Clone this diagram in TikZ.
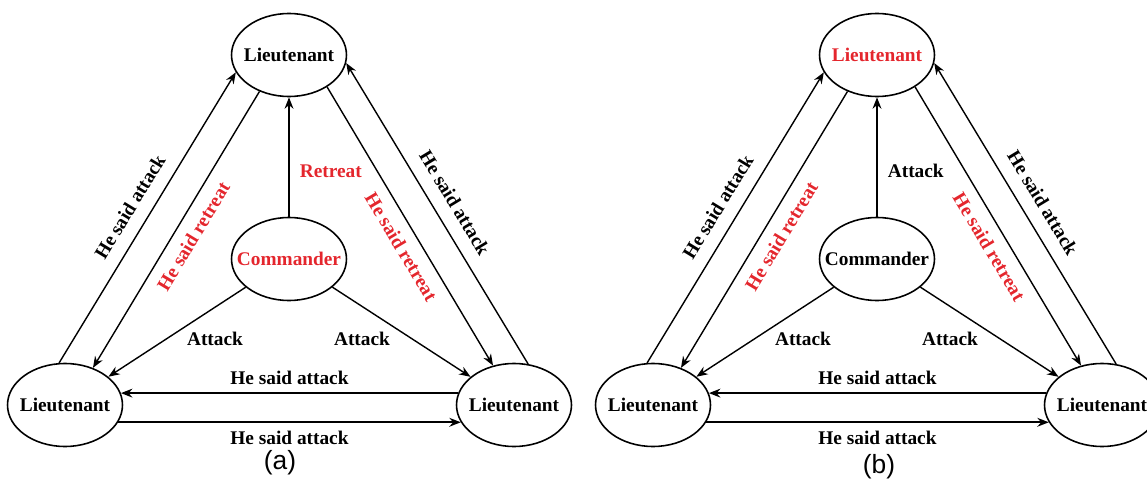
\documentclass[tikz,border=0pt]{standalone}
\usepackage{fontspec}
\setmainfont{Liberation Serif}
\newfontfamily\tagfont{Liberation Sans}
\usetikzlibrary{shapes.geometric}
\usetikzlibrary{arrows.meta}
\definecolor{msgred}{RGB}{228,38,45}
% zero-width text so the ellipse keeps its own size
\newcommand{\ovaltext}[1]{\makebox[0pt]{#1}}

\begin{document}
\begin{tikzpicture}[x=0.02cm, y=-0.02cm,
        every node/.style={font=\fontsize{11}{13}\selectfont\bfseries},
        officer/.style={ellipse, draw, line width=0.9pt, minimum width=2.3cm, minimum height=1.66cm, inner sep=0pt},
        msg/.style={inner sep=1pt},
        >={Stealth[length=6.5pt,width=5pt]}]
    \useasboundingbox (0,0) rectangle (1147,480);

    \foreach \dx/\topcol/\cmdcol/\order/\ordcol/\tag/\tx/\ty in
        {0/black/msgred/Retreat/msgred/a/280/463, 588/msgred/black/Attack/black/b/291/467}{
        \begin{scope}
            \node[officer, text=\topcol] (top) at (\dx+289,55) {\ovaltext{Lieutenant}};
            \node[officer, text=\cmdcol] (cmd) at (\dx+289,259) {\ovaltext{Commander}};
            \node[officer] (bl) at (\dx+65,405) {\ovaltext{Lieutenant}};
            \node[officer] (br) at (\dx+514,405) {\ovaltext{Lieutenant}};
            \node[font=\tagfont\fontsize{15}{18}\selectfont] (tag) at (\dx+\tx,\ty) {(\tag)};
        \end{scope}

        \begin{scope}[every edge/.style={draw=black, line width=0.8pt}]
            \path [->] (cmd) edge [line width=1pt] node[msg, right=4.7pt, pos=0.38, text=\ordcol] {\order} (top);
            \path [->] (cmd) edge (bl);
            \path [->] (cmd) edge (br);
            \node[msg] (atkl) at (\dx+215,339) {Attack};
            \node[msg] (atkr) at (\dx+362,339) {Attack};
            \path [->] (br.168) edge [line width=1.1pt] node[msg, above=3pt] {He said attack} (bl.12);
            \path [->] (bl.-18) edge [line width=1.1pt] node[msg, below=3.5pt] {He said attack} (br.198);
            \path [->] (bl.98) edge node[msg, sloped, above=6.5pt, pos=0.5] {He said attack} (top.198);
            \path [->] (top.231) edge node[msg, sloped, below=5pt, pos=0.49, text=msgred] {He said retreat} (bl.53);
            \path [->] (top.320) edge node[msg, sloped, below=5pt, pos=0.54, text=msgred] {He said retreat} (br.118);
            \path [->] (br.71) edge node[msg, sloped, above=6.5pt, pos=0.5] {He said attack} (top.352);
        \end{scope}
    }
\end{tikzpicture}
\end{document}
